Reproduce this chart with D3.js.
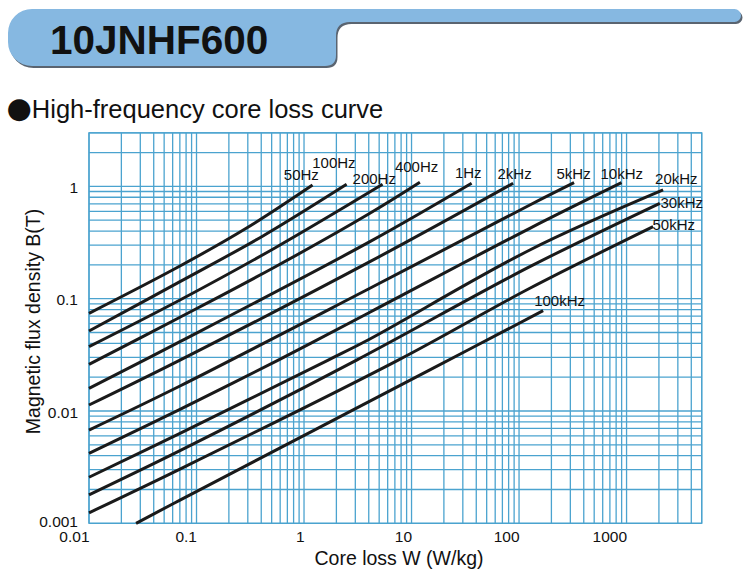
<!DOCTYPE html>
<html>
<head>
<meta charset="utf-8">
<script src="https://cdn.jsdelivr.net/npm/d3@7"></script>
<style>
  html, body { margin: 0; padding: 0; background: #ffffff; }
  svg { display: block; }
  text { font-family: "Liberation Sans", Arial, Helvetica, sans-serif; }
</style>
</head>
<body>
<div id="chart"></div>
<script>
// ---------------- data ----------------
const chartTitle = "10JNHF600";
const chartSubtitle = "High-frequency core loss curve";
const xAxisTitle = "Core loss W (W/kg)";
const yAxisTitle = "Magnetic flux density B(T)";

const xTickValues = [0.01, 0.1, 1, 10, 100, 1000];
const xTickLabels = ["0.01", "0.1", "1", "10", "100", "1000"];
const yTickValues = [0.001, 0.01, 0.1, 1];
const yTickLabels = ["0.001", "0.01", "0.1", "1"];

const seriesNames = ["50Hz", "100Hz", "200Hz", "400Hz", "1Hz", "2kHz", "5kHz", "10kHz", "20kHz", "30kHz", "50kHz", "100kHz"];

// core loss W (W/kg) sample points of each curve
const seriesLoss = [
  [0.01, 0.0702, 0.2925, 1.20],
  [0.01, 0.0702, 0.415, 2.49],
  [0.01, 0.0702, 0.536, 5.38],
  [0.01, 0.0702, 0.536, 4.10, 11.96],
  [0.01, 0.0702, 4.10, 36.2],
  [0.01, 0.0702, 4.10, 88.1],
  [0.01, 0.0702, 4.10, 126, 325],
  [0.01, 0.0702, 0.576, 4.10, 126, 898],
  [0.01, 0.0702, 1.679, 4.10, 126, 2187],
  [0.01, 0.0702, 3.084, 126, 2038],
  [0.01, 0.0702, 7.515, 126, 1766],
  [0.0274, 0.0702, 14.81, 167.5]
];
// magnetic flux density B (T) at those points
const seriesFlux = [
  [0.0741, 0.1955, 0.426, 1.03],
  [0.0516, 0.1417, 0.362, 1.044],
  [0.0374, 0.0974, 0.283, 1.044],
  [0.0260, 0.0683, 0.1915, 0.576, 1.088],
  [0.0159, 0.0414, 0.322, 1.066],
  [0.01131, 0.0284, 0.2136, 1.066],
  [0.00677, 0.0167, 0.1238, 0.683, 1.079],
  [0.0042, 0.01035, 0.0284, 0.0757, 0.4235, 1.079],
  [0.00257, 0.00633, 0.0284, 0.0438, 0.2715, 0.929],
  [0.00179, 0.00443, 0.0284, 0.1928, 0.707],
  [0.00124, 0.00304, 0.0284, 0.1238, 0.438],
  [0.001, 0.00161, 0.0232, 0.0782]
];

// ---------------- layout ----------------
const W = 746, H = 578;
const plot = { left: 89, right: 701.7, top: 132.8, bottom: 523.3 };
// label offsets (px) relative to each curve's end point
const labelOffsets = [
  [-28.7, -5], [-34.4, -16], [-30, 0], [-25, -10], [-16.7, -5], [-15.6, -4],
  [-17.6, -4], [-21, -4], [-8, -6], [0.7, 5], [-0.6, 3], [-9, -5]
];
const gridColor = "#4ba3cf";
const curveColor = "#1a1a1a";

const svg = d3.select("#chart").append("svg")
  .attr("width", W).attr("height", H);

// ---------------- header tab ----------------
const tabPath = "M32,9 H734.5 A6.5,6.5 0 0 1 734.5,22 H350 Q336,22 336,36 V55 Q336,66 325,66 H32 A24,24 0 0 1 8,42 V33 A24,24 0 0 1 32,9 Z";
svg.append("path").attr("d", tabPath)
  .attr("transform", "translate(1.5,2)")
  .attr("fill", "#5a6470");
svg.append("path").attr("d", tabPath).attr("fill", "#86b8e1");
svg.append("text")
  .attr("x", 50).attr("y", 53.5)
  .attr("font-size", 40.5).attr("font-weight", "bold").attr("fill", "#111")
  .text(chartTitle);

const sub = svg.append("text").attr("x", 6.5).attr("y", 118).attr("fill", "#111");
sub.append("tspan").attr("font-size", 29).attr("font-family", "DejaVu Sans").text("●");
sub.append("tspan").attr("font-size", 25.5).text(chartSubtitle);

// ---------------- scales ----------------
const x = d3.scaleLog().domain([0.01, 5000]).range([plot.left, plot.right]);
const y = d3.scaleLog().domain([0.001, 3]).range([plot.bottom, plot.top]);

// ---------------- grid ----------------
const grid = svg.append("g").attr("stroke", gridColor).attr("stroke-width", 1.3).attr("fill", "none");
grid.selectAll("line.vx").data(x.ticks(60)).join("line")
  .attr("x1", d => x(d)).attr("x2", d => x(d))
  .attr("y1", plot.top).attr("y2", plot.bottom);
grid.selectAll("line.hy").data(y.ticks(60)).join("line")
  .attr("y1", d => y(d)).attr("y2", d => y(d))
  .attr("x1", plot.left).attr("x2", plot.right);
grid.append("rect")
  .attr("x", plot.left).attr("y", plot.top)
  .attr("width", plot.right - plot.left).attr("height", plot.bottom - plot.top);

// ---------------- axes ----------------
const xAxis = svg.append("g")
  .attr("transform", `translate(0,${plot.bottom})`)
  .call(d3.axisBottom(x).tickValues(xTickValues)
    .tickFormat((d, i) => xTickLabels[i]).tickSize(0).tickPadding(0));
xAxis.select(".domain").remove();
xAxis.selectAll("text")
  .attr("font-size", 15.5).attr("fill", "#111")
  .attr("text-anchor", "end").attr("dy", null).attr("y", 19.2)
  .style("font-family", '"Liberation Sans", Arial, sans-serif');

const yAxis = svg.append("g")
  .attr("transform", `translate(${plot.left},0)`)
  .call(d3.axisLeft(y).tickValues(yTickValues)
    .tickFormat((d, i) => yTickLabels[i]).tickSize(0).tickPadding(11));
yAxis.select(".domain").remove();
yAxis.selectAll("text")
  .attr("font-size", 15.5).attr("fill", "#111")
  .attr("dy", (d, i) => i === 0 ? "0.22em" : "0.4em")
  .style("font-family", '"Liberation Sans", Arial, sans-serif');

svg.append("text")
  .attr("x", 399).attr("y", 565)
  .attr("text-anchor", "middle").attr("font-size", 19.5).attr("fill", "#111")
  .text(xAxisTitle);

svg.append("text")
  .attr("transform", "translate(40,321.5) rotate(-90)")
  .attr("text-anchor", "middle").attr("font-size", 19.5).attr("fill", "#111")
  .text(yAxisTitle);

// ---------------- curves ----------------
const line = d3.line()
  .x(d => x(d[0])).y(d => y(d[1]))
  .curve(d3.curveCatmullRom.alpha(0.5));

const curves = seriesNames.map((name, i) => ({
  name,
  points: seriesLoss[i].map((w, j) => [w, seriesFlux[i][j]]),
  offset: labelOffsets[i]
}));

svg.append("g").selectAll("path").data(curves).join("path")
  .attr("d", d => line(d.points))
  .attr("fill", "none").attr("stroke", curveColor)
  .attr("stroke-width", 3).attr("stroke-linecap", "butt");

svg.append("g").selectAll("text").data(curves).join("text")
  .attr("x", d => x(d.points[d.points.length - 1][0]) + d.offset[0])
  .attr("y", d => y(d.points[d.points.length - 1][1]) + d.offset[1])
  .attr("font-size", 15).attr("fill", "#111")
  .text(d => d.name);
</script>
</body>
</html>
